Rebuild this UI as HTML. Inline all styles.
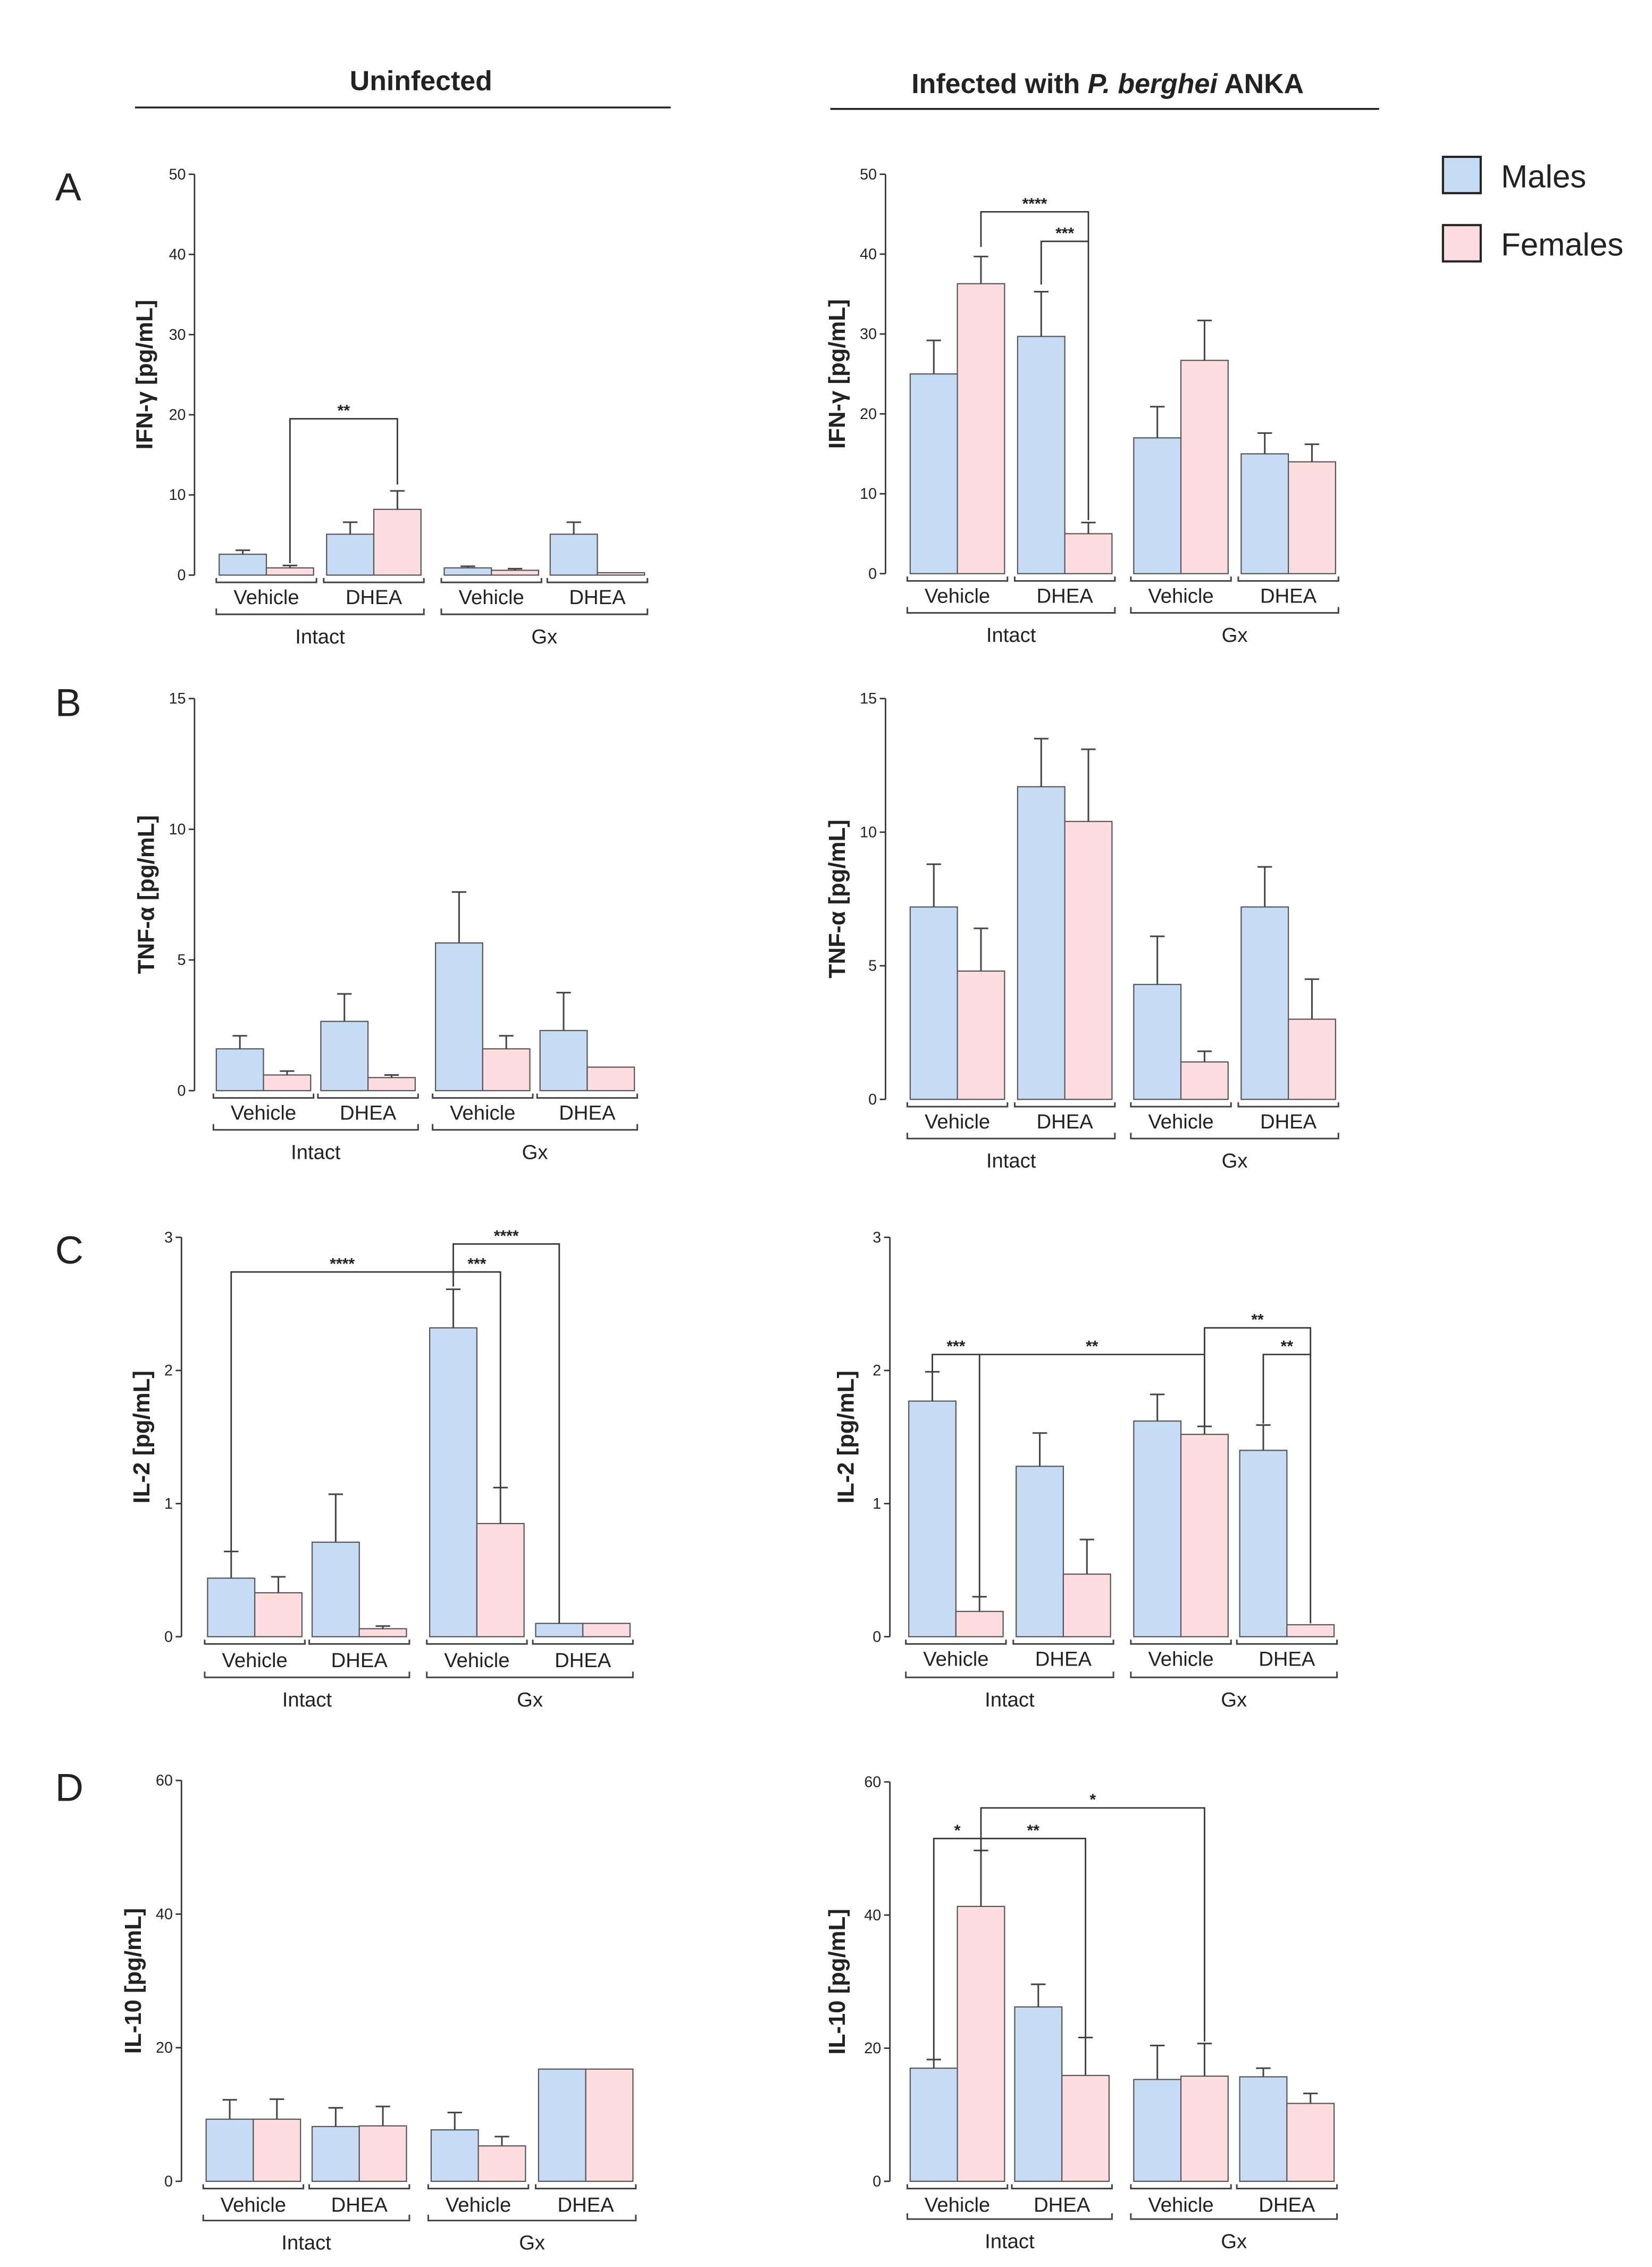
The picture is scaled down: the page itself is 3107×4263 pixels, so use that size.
<!DOCTYPE html>
<html><head><meta charset="utf-8"><style>
html,body{margin:0;padding:0;background:#fff;}
svg{display:block;}
text{font-family:"Liberation Sans",Arial,sans-serif;fill:#222;}
</style></head><body>
<svg id="fig" xmlns="http://www.w3.org/2000/svg" width="3107" height="4263" viewBox="0 0 1138 1561" preserveAspectRatio="none">
<text x="290" y="62" font-size="19" font-weight="bold" text-anchor="middle">Uninfected</text>
<line x1="93" y1="74" x2="462" y2="74" stroke="#222" stroke-width="1.3"/>
<text x="763" y="64" font-size="19" font-weight="bold" text-anchor="middle">Infected with <tspan font-style="italic">P. berghei</tspan> ANKA</text>
<line x1="572" y1="75" x2="950" y2="75" stroke="#222" stroke-width="1.3"/>
<text x="38" y="138" font-size="27">A</text>
<text x="38" y="493" font-size="27">B</text>
<text x="38" y="870" font-size="27">C</text>
<text x="38" y="1240" font-size="27">D</text>
<g>
<rect x="994" y="108" width="26" height="25" fill="#c6dcf5" stroke="#222" stroke-width="1.5"/>
<text x="1034" y="129" font-size="22">Males</text>
<rect x="994" y="155" width="26" height="25" fill="#fddde0" stroke="#222" stroke-width="1.5"/>
<text x="1034" y="176" font-size="22">Females</text>
</g>
</svg>
<script>
// ---- data (pg/mL) ----
const groupLabels = ["Vehicle","DHEA","Vehicle","DHEA"];
const superLabels = ["Intact","Gx"];
const aLeftMales = [2.6, 5.1, 0.9, 5.1];
const aLeftFemales = [0.9, 8.2, 0.6, 0.3];
const aLeftMalesErr = [3.1, 6.6, 1.1, 6.6];
const aLeftFemalesErr = [1.2, 10.5, 0.8, 0.3];
const aRightMales = [25, 29.7, 17, 15];
const aRightFemales = [36.3, 5, 26.7, 14];
const aRightMalesErr = [29.2, 35.3, 20.9, 17.6];
const aRightFemalesErr = [39.7, 6.4, 31.7, 16.2];
const bLeftMales = [1.6, 2.65, 5.65, 2.3];
const bLeftFemales = [0.6, 0.5, 1.6, 0.9];
const bLeftMalesErr = [2.1, 3.7, 7.6, 3.75];
const bLeftFemalesErr = [0.75, 0.6, 2.1, 0.9];
const bRightMales = [7.2, 11.7, 4.3, 7.2];
const bRightFemales = [4.8, 10.4, 1.4, 3.0];
const bRightMalesErr = [8.8, 13.5, 6.1, 8.7];
const bRightFemalesErr = [6.4, 13.1, 1.8, 4.5];
const cLeftMales = [0.44, 0.71, 2.32, 0.1];
const cLeftFemales = [0.33, 0.06, 0.85, 0.1];
const cLeftMalesErr = [0.64, 1.07, 2.61, 0.1];
const cLeftFemalesErr = [0.45, 0.08, 1.12, 0.1];
const cRightMales = [1.77, 1.28, 1.62, 1.4];
const cRightFemales = [0.19, 0.47, 1.52, 0.09];
const cRightMalesErr = [1.99, 1.53, 1.82, 1.59];
const cRightFemalesErr = [0.3, 0.73, 1.58, 0.09];
const dLeftMales = [9.3, 8.2, 7.7, 16.8];
const dLeftFemales = [9.3, 8.3, 5.3, 16.8];
const dLeftMalesErr = [12.2, 11, 10.3, 16.8];
const dLeftFemalesErr = [12.3, 11.2, 6.7, 16.8];
const dRightMales = [17, 26.2, 15.3, 15.7];
const dRightFemales = [41.3, 15.9, 15.8, 11.7];
const dRightMalesErr = [18.3, 29.6, 20.4, 17];
const dRightFemalesErr = [49.7, 21.6, 20.7, 13.2];
// significance: [barA, barB, level, endA, endB, label] (bar index = group*2 + sex)
const aLeftSig = [[1, 3, 19.5, 1.5, 11.3, "**"]];
const aRightSig = [[1, 3, 45.3, 40.9, 6.7, "****"], [2, 3, 41.6, 36.2, 41.6, "***"]];
const cLeftSig = [[0, 4, 2.74, 0.64, 2.63, "****"], [4, 5, 2.74, 2.74, 1.12, "***"], [4, 6, 2.95, 2.74, 0.1, "****"]];
const cRightSig = [[0, 1, 2.12, 1.99, 0.3, "***"], [1, 5, 2.12, 2.12, 1.58, "**"], [5, 7, 2.32, 2.12, 0.1, "**"], [6, 7, 2.12, 1.6, 2.12, "**"]];
const dRightSig = [[0, 1, 51.5, 18.3, 49.3, "*"], [1, 3, 51.5, 51.5, 21.7, "**"], [1, 5, 56.1, 51.5, 21, "*"]];

const panels = [
 {id:"a-left", ax:134, y0:396, yTop:120, max:50, step:10, off:[17,91,172,245], lab:411, sup:438, title:"IFN-\u03b3 [pg/mL]", tx:105, m:aLeftMales, f:aLeftFemales, me:aLeftMalesErr, fe:aLeftFemalesErr, sig:aLeftSig},
 {id:"a-right", ax:610, y0:395, yTop:120, max:50, step:10, off:[17,91,171,245], lab:410, sup:437, title:"IFN-\u03b3 [pg/mL]", tx:582, m:aRightMales, f:aRightFemales, me:aRightMalesErr, fe:aRightFemalesErr, sig:aRightSig},
 {id:"b-left", ax:134, y0:751, yTop:481, max:15, step:5, off:[15,87,166,238], lab:766, sup:793, title:"TNF-\u03b1 [pg/mL]", tx:106, m:bLeftMales, f:bLeftFemales, me:bLeftMalesErr, fe:bLeftFemalesErr, sig:[]},
 {id:"b-right", ax:610, y0:757, yTop:481, max:15, step:5, off:[17,91,171,245], lab:772, sup:799, title:"TNF-\u03b1 [pg/mL]", tx:582, m:bRightMales, f:bRightFemales, me:bRightMalesErr, fe:bRightFemalesErr, sig:[]},
 {id:"c-left", ax:125, y0:1127, yTop:852, max:3, step:1, off:[18,90,171,244], lab:1143, sup:1170, title:"IL-2 [pg/mL]", tx:103, m:cLeftMales, f:cLeftFemales, me:cLeftMalesErr, fe:cLeftFemalesErr, sig:cLeftSig},
 {id:"c-right", ax:613, y0:1127, yTop:852, max:3, step:1, off:[13,87,168,241], lab:1142, sup:1170, title:"IL-2 [pg/mL]", tx:588, m:cRightMales, f:cRightFemales, me:cRightMalesErr, fe:cRightFemalesErr, sig:cRightSig},
 {id:"d-left", ax:125, y0:1502, yTop:1226, max:60, step:20, off:[17,90,172,246], lab:1518, sup:1544, title:"IL-10 [pg/mL]", tx:97, m:dLeftMales, f:dLeftFemales, me:dLeftMalesErr, fe:dLeftFemalesErr, sig:[]},
 {id:"d-right", ax:613, y0:1502, yTop:1227, max:60, step:20, off:[14,86,168,241], lab:1518, sup:1543, title:"IL-10 [pg/mL]", tx:582, m:dRightMales, f:dRightFemales, me:dRightMalesErr, fe:dRightFemalesErr, sig:dRightSig}
];
const NS = "http://www.w3.org/2000/svg";
const svg = document.getElementById("fig");
function mk(tag, attrs, parent) {
  const e = document.createElementNS(NS, tag);
  for (const k in attrs) e.setAttribute(k, attrs[k]);
  parent.appendChild(e);
  return e;
}
const BW = 32.5;
panels.forEach(p => {
  const g = mk("g", {}, svg);
  
  
  const y = v => p.y0 - v / p.max * (p.y0 - p.yTop);
  const bx = i => p.ax + p.off[Math.floor(i / 2)] + (i % 2) * BW;
  const cx = i => bx(i) + BW / 2;
  // axis
  const axis = mk("line", {x1:p.ax, y1:p.y0, x2:p.ax, y2:p.yTop, stroke:"#333", "stroke-width":1}, g);
  
  
  for (let v = 0; v <= p.max + 1e-9; v += p.step) {
    const tk = mk("line", {x1:p.ax - 4, y1:y(v), x2:p.ax, y2:y(v), stroke:"#333", "stroke-width":1}, g);
    
    
    const tl = mk("text", {x:p.ax - 6, y:y(v) + 3.5, "font-size":10.5, "text-anchor":"end"}, g);
    tl.textContent = v;
    
    
  }
  const cy = (p.yTop + p.y0) / 2;
  const tt = mk("text", {x:p.tx, y:cy, "font-size":16, "font-weight":"bold", "text-anchor":"middle", transform:"rotate(-90 " + p.tx + " " + cy + ")"}, g);
  tt.textContent = p.title;
  
  
  // bars
  for (let k = 0; k < 4; k++) {
    [[p.m, p.me, "#c6dcf5", "male"], [p.f, p.fe, "#fddde0", "female"]].forEach((s, si) => {
      const i = k * 2 + si;
      const v = s[0][k], e = s[1][k];
      const r = mk("rect", {x:bx(i), y:y(v), width:BW, height:p.y0 - y(v), fill:s[2], stroke:"#555", "stroke-width":0.8}, g);
      
      
      if (e > v + 1e-9) {
        const el = mk("path", {d:"M" + cx(i) + " " + y(v) + "V" + y(e) + "M" + (cx(i) - 5) + " " + y(e) + "H" + (cx(i) + 5), stroke:"#444", "stroke-width":1.1, fill:"none"}, g);
        
        
      }
    });
    // pair bracket + label
    const x1 = bx(k * 2) - 2, x2 = bx(k * 2 + 1) + BW + 2, by = p.y0 + 5;
    const pb = mk("path", {d:"M" + x1 + " " + (by - 3) + "V" + by + "H" + x2 + "V" + (by - 3), stroke:"#444", "stroke-width":1.1, fill:"none"}, g);
    
    
    const gl = mk("text", {x:(x1 + x2) / 2, y:p.lab + 5, "font-size":14, "text-anchor":"middle"}, g);
    gl.textContent = groupLabels[k];
    
    
  }
  for (let s = 0; s < 2; s++) {
    const x1 = bx(s * 4) - 2, x2 = bx(s * 4 + 3) + BW + 2, by = p.sup - 15;
    const sb = mk("path", {d:"M" + x1 + " " + (by - 4) + "V" + by + "H" + x2 + "V" + (by - 4), stroke:"#444", "stroke-width":1.1, fill:"none"}, g);
    
    
    const sl = mk("text", {x:(x1 + x2) / 2, y:p.sup + 5, "font-size":14, "text-anchor":"middle"}, g);
    sl.textContent = superLabels[s];
    
    
  }
  // significance brackets
  p.sig.forEach(sg => {
    const xa = cx(sg[0]), xb = cx(sg[1]), ly = y(sg[2]);
    const sp = mk("path", {d:"M" + xa + " " + y(sg[3]) + "V" + ly + "H" + xb + "V" + y(sg[4]), stroke:"#333", "stroke-width":1, fill:"none"}, g);
    
    
    const st = mk("text", {x:(xa + xb) / 2, y:ly - 2, "font-size":11, "font-weight":"bold", "text-anchor":"middle"}, g);
    st.textContent = sg[5];
    
    
  });
});
</script>
</body></html>
